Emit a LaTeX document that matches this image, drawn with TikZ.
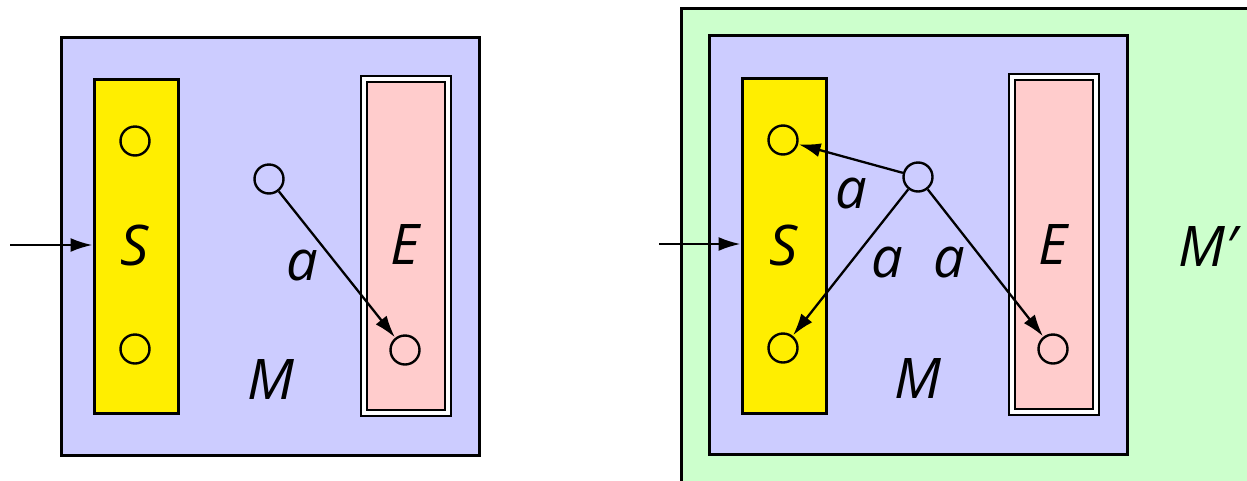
\documentclass[tikz,border=0pt]{standalone}
\usepackage{fontspec}
\setmainfont{Open Sans}
\usetikzlibrary{arrows.meta}
\definecolor{mblue}{RGB}{204,204,255}
\definecolor{syellow}{RGB}{255,238,0}
\definecolor{epink}{RGB}{255,204,204}
\definecolor{mgreen}{RGB}{204,255,204}
\tikzset{
  box/.style={draw=black, line width=2.6pt, rectangle, inner sep=0pt, anchor=north west},
  state/.style={circle, draw=black, line width=2.4pt, minimum size=29pt, inner sep=0pt},
  lbl/.style={font=\fontsize{56}{60}\selectfont\itshape, inner sep=0pt, anchor=center},
  tr/.style={-{Latex[length=22pt,width=14pt]}, line width=2.3pt, shorten >=0.5pt},
}
\begin{document}
\begin{tikzpicture}[x=1pt,y=-1pt]
\useasboundingbox (0,0) rectangle (1247,480);
\begin{scope}
\clip (0,0) rectangle (1247,480);
% ---------- left ----------
\node[box, fill=mblue, minimum width=418pt, minimum height=418pt] (M1) at (60,36) {};
\node[box, fill=syellow, minimum width=84pt, minimum height=334pt] (S1) at (93,78) {};
\node[box, fill=white, line width=2pt, minimum width=90pt, minimum height=340pt] (E1o) at (360,75) {};
\node[box, fill=epink, line width=2pt, minimum width=78pt, minimum height=328pt] (E1i) at (366,81) {};
\node[state] (s1a) at (135,141) {};
\node[state] (s1b) at (135,349) {};
\node[state] (e1) at (405,350) {};
\node[state] (m1) at (269,179) {};
\node[lbl] (S1l) at (135,245) {S};
\node[lbl] (E1l) at (405,245) {E};
\node[lbl] (a1) at (302,266) {a};
\node[lbl] (M1l) at (271,380) {M};
\coordinate (in1) at (10,245);
\draw[tr] (in1) -- (S1.west |- in1);
\draw[tr] (m1) -- (e1);
% ---------- right ----------
\node[box, fill=mgreen, minimum width=600pt, minimum height=500pt] (G) at (680,7) {};
\node[box, fill=mblue, minimum width=418pt, minimum height=419pt] (M2) at (708,34) {};
\node[box, fill=syellow, minimum width=84pt, minimum height=335pt] (S2) at (741,77) {};
\node[box, fill=white, line width=2pt, minimum width=90pt, minimum height=341pt] (E2o) at (1008,73) {};
\node[box, fill=epink, line width=2pt, minimum width=78pt, minimum height=329pt] (E2i) at (1014,79) {};
\node[state] (s2a) at (783,140) {};
\node[state] (s2b) at (783,348) {};
\node[state] (e2) at (1053,349) {};
\node[state] (m2) at (918,177) {};
\node[lbl] (S2l) at (784,245) {S};
\node[lbl] (E2l) at (1053,245) {E};
\node[lbl] (a2) at (851,194) {a};
\node[lbl] (a3) at (887,263) {a};
\node[lbl] (a4) at (949,263) {a};
\node[lbl] (M2l) at (918,379) {M};
\node[lbl] (Mp) at (1208,247) {M\symbol{"2032}};
\coordinate (in2) at (659,244);
\draw[tr] (in2) -- (S2.west |- in2);
\draw[tr] (m2) -- (s2a);
\draw[tr] (m2) -- (s2b);
\draw[tr] (m2) -- (e2);
\end{scope}
\end{tikzpicture}
\end{document}
